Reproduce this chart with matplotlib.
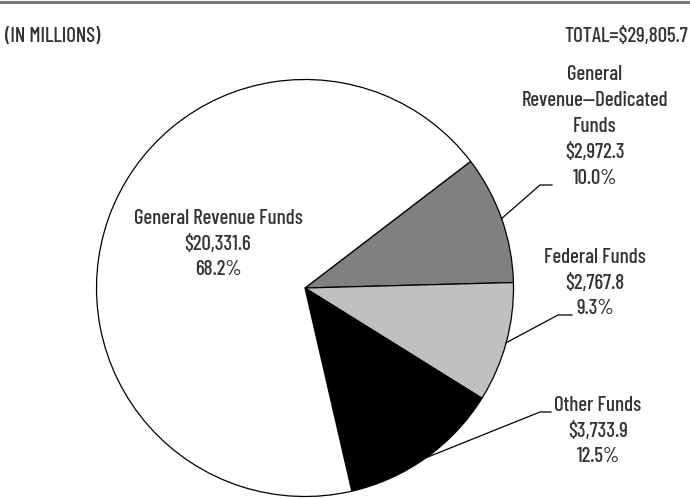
import numpy as np
import matplotlib
matplotlib.use("Agg")
import matplotlib.pyplot as plt

# ── 데이터 ────────────────────────────────────────────────
labels  = ["General\nRevenue\u2014Dedicated\nFunds", "Federal Funds", "Other Funds", "General Revenue Funds"]
amounts = [2972.3, 2767.8, 3733.9, 20331.6]
shares  = [10.0, 9.3, 12.5, 68.2]
colors  = ["#808080", "#c0c0c0", "#000000", "#ffffff"]
total_text = "TOTAL=$29,805.7"
unit_text  = "(IN MILLIONS)"

plt.rcParams["font.family"] = ["Barlow Condensed", "DejaVu Sans"]
plt.rcParams["font.weight"] = 500
TXT = "#333333"

W, H = 690, 498
fig = plt.figure(figsize=(W / 100, H / 100), dpi=100)
ax = fig.add_axes([0, 0, 1, 1])

cx, cy, r = 305, H - 288, 208.5
wedges, _ = ax.pie(amounts, colors=colors, startangle=37.4, counterclock=False,
                   center=(cx, cy), radius=r, frame=True,
                   wedgeprops=dict(edgecolor="black", linewidth=0.9))
ax.set_xlim(0, W)
ax.set_ylim(0, H)
ax.set_aspect("equal")
ax.axis("off")

# 상단 선
ax.plot([0, W], [H - 2, H - 2], color="#777777", lw=2.2, clip_on=False)
ax.text(5, H - 36, unit_text, ha="left", va="center", fontsize=15, color=TXT)
ax.text(688, H - 36, total_text, ha="right", va="center", fontsize=15, color=TXT)

def lbl(i):
    return f"{labels[i]}\n${amounts[i]:,.1f}\n{shares[i]:.1f}%"

# 라벨 중심 위치, 꺾은선 끝점
label_pos = [(595, 126.5), (595, 283), (598, 431)]
elbow     = [((540, 185), (552, 185)), ((558, 315), (572, 315)), ((540, 412), (551, 412))]

for i in range(3):
    w = wedges[i]
    mid = np.deg2rad((w.theta1 + w.theta2) / 2)
    sx, sy = cx + r * np.cos(mid), cy + r * np.sin(mid)
    (ex, ey), (fx, fy) = elbow[i]
    ax.plot([sx, ex, fx], [sy, H - ey, H - fy], color="black", lw=0.9)
    tx, ty = label_pos[i]
    ax.text(tx, H - ty, lbl(i), ha="center", va="center", fontsize=15,
            color=TXT, linespacing=1.46)

# General Revenue Funds (파이 안쪽)
ax.text(218, H - 244, lbl(3), ha="center", va="center", fontsize=15,
        color=TXT, linespacing=1.46)

fig.savefig("out.png", dpi=100)
